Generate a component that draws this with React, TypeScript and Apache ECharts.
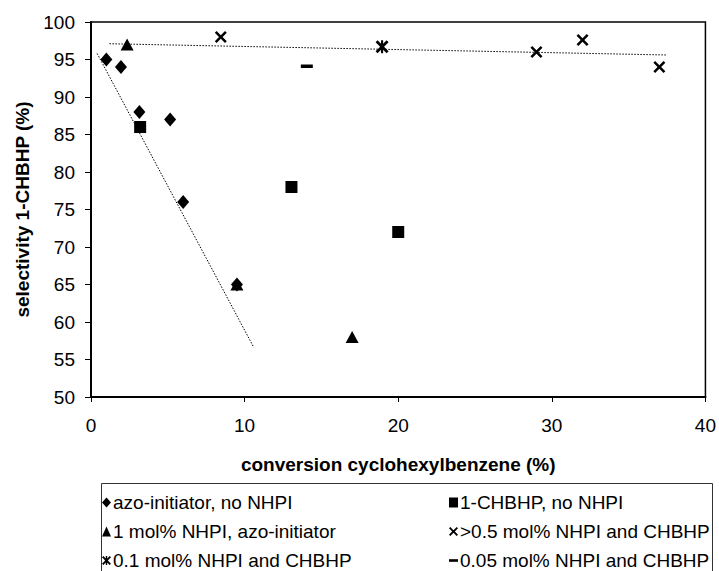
import React, { useEffect, useRef } from "react";
import * as echarts from "echarts";

const FONT = "'Liberation Sans', Arial, sans-serif";

const azoNoNhpi: number[][] = [[1, 95], [1.95, 94], [3.15, 88], [5.15, 87], [6, 76], [9.5, 65]];
const chbhpNoNhpi: number[][] = [[3.2, 86], [13.05, 78], [20, 72]];
const nhpi1Azo: number[][] = [[2.35, 97], [9.5, 65], [17, 58]];
const nhpiGt05: number[][] = [[8.45, 98], [29, 96], [32, 97.6], [37, 94]];
const nhpi01: number[][] = [[18.95, 96.7]];
const nhpi005: number[][] = [[14.05, 94.1]];
const trendSteep: number[][] = [[0.4, 95.8], [10.6, 56.6]];
const trendFlat: number[][] = [[1.2, 97.1], [37.5, 95.6]];

const NAMES = [
  "azo-initiator, no NHPI",
  "1-CHBHP, no NHPI",
  "1 mol% NHPI, azo-initiator",
  ">0.5 mol% NHPI and CHBHP",
  "0.1 mol% NHPI and CHBHP",
  "0.05 mol% NHPI and CHBHP",
];

const X_PATH =
  "path://M0,1.5L1.5,0L5,3.5L8.5,0L10,1.5L6.5,5L10,8.5L8.5,10L5,6.5L1.5,10L0,8.5L3.5,5Z";
const STAR_PATH =
  "path://M0,1.5L1.5,0L5,3.5L8.5,0L10,1.5L6.5,5L10,8.5L8.5,10L5,6.5L1.5,10L0,8.5L3.5,5Z M4.2,0L5.8,0L5.8,10L4.2,10Z";
const DASH_PATH = "path://M0,0L12,0L12,3.5L0,3.5Z";

export default function App() {
  const ref = useRef<HTMLDivElement>(null);
  useEffect(() => {
    if (!ref.current) return;
    const chart = echarts.init(ref.current, undefined, { renderer: "svg" });
    const sc = (name: string, data: number[][], symbol: string, size: any) => ({
      name,
      type: "scatter",
      data,
      symbol,
      symbolSize: size,
      itemStyle: { color: "#000", opacity: 1 },
      z: 3,
    });
    const legendCommon = {
      orient: "vertical",
      itemWidth: 9,
      itemHeight: 10,
      itemGap: 10,
      padding: 0,
      height: 90,
      textStyle: { fontFamily: FONT, fontSize: 19, color: "#000", padding: [0, 0, 0, -3] },
      selectedMode: false,
    };
    chart.setOption({
      animation: false,
      backgroundColor: "#fff",
      grid: {
        left: 91,
        right: 11,
        top: 22,
        bottom: 174,
        show: true,
        borderColor: "#000",
        borderWidth: 1.5,
      },
      xAxis: {
        type: "value",
        min: 0,
        max: 40,
        interval: 10,
        name: "conversion cyclohexylbenzene (%)",
        nameLocation: "middle",
        nameGap: 58,
        nameTextStyle: { fontFamily: FONT, fontSize: 19, fontWeight: "bold", color: "#000" },
        axisLine: { lineStyle: { color: "#000", width: 2 } },
        axisTick: { show: true, length: 5, lineStyle: { color: "#000" } },
        axisLabel: { fontFamily: FONT, fontSize: 19, color: "#000", margin: 19 },
        splitLine: { show: false },
      },
      yAxis: {
        type: "value",
        min: 50,
        max: 100,
        interval: 5,
        name: "selectivity 1-CHBHP (%)",
        nameLocation: "middle",
        nameGap: 58,
        nameTextStyle: { fontFamily: FONT, fontSize: 19, fontWeight: "bold", color: "#000" },
        axisLine: { lineStyle: { color: "#000", width: 2 } },
        axisTick: { show: true, length: 6, lineStyle: { color: "#000" } },
        axisLabel: { fontFamily: FONT, fontSize: 19, color: "#000", margin: 16 },
        splitLine: { show: false },
      },
      legend: [
        {
          ...legendCommon,
          left: 102,
          top: 493,
          data: [NAMES[0], NAMES[2], NAMES[4]],
        },
        {
          ...legendCommon,
          left: 449,
          top: 493,
          data: [NAMES[1], NAMES[3], NAMES[5]],
        },
      ],
      graphic: [
        {
          type: "rect",
          shape: { x: 101.5, y: 483.5, width: 611, height: 100 },
          style: { fill: "none", stroke: "#333", lineWidth: 1 },
          silent: true,
        },
      ],
      series: [
        {
          name: "trend-steep",
          type: "line",
          data: trendSteep,
          symbol: "none",
          lineStyle: { color: "#000", width: 1, type: [1.5, 1.5] },
          z: 2,
        },
        {
          name: "trend-flat",
          type: "line",
          data: trendFlat,
          symbol: "none",
          lineStyle: { color: "#000", width: 1, type: [1.5, 1.5] },
          z: 2,
        },
        sc(NAMES[0], azoNoNhpi, "diamond", [12, 14]),
        sc(NAMES[1], chbhpNoNhpi, "rect", 12),
        sc(NAMES[2], nhpi1Azo, "triangle", [13, 12]),
        sc(NAMES[3], nhpiGt05, X_PATH, 12),
        sc(NAMES[4], nhpi01, STAR_PATH, 13),
        sc(NAMES[5], nhpi005, DASH_PATH, [12, 3.5]),
      ],
    });
    return () => chart.dispose();
  }, []);
  return <div ref={ref} style={{ width: 719, height: 571, position: "absolute", left: 0, top: 0 }} />;
}
